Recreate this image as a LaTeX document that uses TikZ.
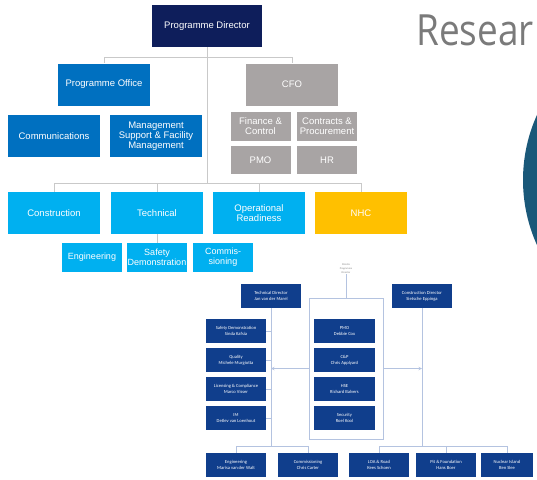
\documentclass[tikz,border=0pt]{standalone}
\usepackage{fontspec}
\setmainfont{Liberation Sans}
\newfontfamily\orgsmall{Carlito}
\newfontfamily\orgtitle{Open Sans}
\definecolor{pdnavy}{HTML}{0E1E5B}
\definecolor{midblue}{HTML}{0070C0}
\definecolor{lightblue}{HTML}{00B0F0}
\definecolor{cfogray}{HTML}{A8A4A4}
\definecolor{nhcyellow}{HTML}{FFC000}
\definecolor{lownavy}{HTML}{103E8C}
\definecolor{linegray}{HTML}{C9C9C9}
\definecolor{lineblue}{HTML}{B4C3E0}
\definecolor{titlegray}{HTML}{7A7A7A}
\definecolor{discteal}{HTML}{1A5879}
\tikzset{
  orgbox/.style={rectangle, inner sep=0pt, align=center, text=white,
    font=\fontsize{9.5}{10}\selectfont},
  bigbox/.style={orgbox, minimum width=92pt, minimum height=42pt},
  subbox/.style={orgbox, minimum width=60pt, minimum height=29pt},
  namebox/.style={rectangle, inner sep=0pt, align=center, text=white, fill=lownavy,
    minimum width=60pt, minimum height=24pt, font=\orgsmall\fontsize{4.6}{6.4}\selectfont},
  topline/.style={draw=linegray, line width=0.8pt},
  lowline/.style={draw=lineblue, line width=0.6pt},
}
\begin{document}
\begin{tikzpicture}[x=1pt, y=-1pt, >=stealth]
    \useasboundingbox (0,0) rectangle (537,479);

    % Titolo e disco
    \begin{scope}
        \clip (0,0) rectangle (537,479);
        \fill[discteal] (681,180) circle (158);
    \end{scope}
    \node[font=\orgtitle\fontsize{43}{43}\selectfont, text=titlegray, anchor=base west, inner sep=0pt] (title) at (416,45) {\scalebox{0.86}[1]{Resear}};

    % Vertice
    \node[orgbox, fill=pdnavy, minimum width=110pt, minimum height=42pt] (pd) at (207,26) {Programme Director};

    % Ufficio e CFO
    \node[bigbox, fill=midblue] (progoff) at (104,84.5) {Programme Office};
    \node[bigbox, fill=midblue] (comms) at (54,136) {Communications};
    \node[bigbox, fill=midblue] (mgmt) at (156,136) {Management\\Support \& Facility\\Management};
    \node[bigbox, fill=cfogray] (cfo) at (292,84.5) {CFO};
    \node[subbox, fill=cfogray] (fin) at (260.5,126.5) {Finance \&\\Control};
    \node[subbox, fill=cfogray] (contr) at (327,126.5) {Contracts \&\\Procurement};
    \node[subbox, fill=cfogray, minimum height=28pt] (pmo) at (260.5,160) {PMO};
    \node[subbox, fill=cfogray, minimum height=28pt] (hr) at (327,160) {HR};

    % Reparti
    \node[bigbox, fill=lightblue] (constr) at (54,213) {Construction};
    \node[bigbox, fill=lightblue] (tech) at (157,213) {Technical};
    \node[bigbox, fill=lightblue] (opsready) at (259,213) {Operational\\Readiness};
    \node[bigbox, fill=nhcyellow] (nhc) at (361,213) {NHC};
    \node[subbox, fill=lightblue, font=\fontsize{9}{10}\selectfont] (eng) at (92,257.5) {Engineering};
    \node[subbox, fill=lightblue, font=\fontsize{9}{10}\selectfont] (safety) at (157,257.5) {Safety\\Demonstration};
    \node[subbox, fill=lightblue, font=\fontsize{9}{10}\selectfont] (commis) at (223,257.5) {Commis-\\sioning};

    % Collegamenti in alto
    \coordinate (topbus) at (207,57);
    \coordinate (rowbus) at (207,183);
    \draw[topline] (pd.south) -- (rowbus);
    \draw[topline] (topbus) -| (progoff.north);
    \draw[topline] (topbus) -| (cfo.north);
    \draw[topline] (rowbus) -| (constr.north);
    \draw[topline] (rowbus) -| (tech.north);
    \draw[topline] (rowbus) -| (opsready.north);
    \draw[topline] (rowbus) -| (nhc.north);
    \draw[topline] (tech.south) -- (safety.north);

    % Organigramma in basso
    \node[text=gray, font=\orgsmall\fontsize{2.6}{4.2}\selectfont, align=center, inner sep=0.5pt] (pallas) at (346,268.5) {PALLAS\\Programme\\Director};
    \node[namebox] (techdir) at (271,296) {Technical Director\\Jan van der Marel};
    \node[namebox] (condir) at (422,296) {Construction Director\\Sietsche Eppinga};
    \node[draw=lineblue, line width=0.6pt, minimum width=74pt, minimum height=141pt, inner sep=0pt] (staff) at (346,368.5) {};

    \node[namebox, minimum width=61pt] (pmodc) at (344.5,331) {PMO\\Debbie Cox};
    \node[namebox, minimum width=61pt] (cp) at (344.5,360) {C\&P\\Chris Applyard};
    \node[namebox, minimum width=61pt] (hse) at (344.5,389) {HSE\\Richard Balvers};
    \node[namebox, minimum width=61pt] (sec) at (344.5,418) {Security\\Roel Kool};

    \node[namebox] (safedem) at (236,331) {Safety Demonstration\\Sinda Kafsia};
    \node[namebox] (quality) at (236,360) {Quality\\Michele Murgiotta};
    \node[namebox] (licens) at (236,389) {Licensing \& Compliance\\Marco Visser};
    \node[namebox] (im) at (236,418) {IM\\Detlev van Loenhout};

    \node[namebox] (engmw) at (236,465) {Engineering\\Marisa van der Walt};
    \node[namebox] (commcc) at (308,465) {Commissioning\\Chris Carter};
    \node[namebox] (loa) at (379,465) {LOA \& Road\\Kees Schoen};
    \node[namebox] (pitf) at (446,465) {Pit \& Foundation\\Hans Boer};
    \node[namebox, minimum width=52pt] (nuclear) at (507,465) {Nuclear Island\\Ben Slee};

    % Collegamenti in basso
    \coordinate (techbus) at (271,446);
    \coordinate (conbus) at (422,446);
    \draw[lowline] (pallas.south) -- (staff.north);
    \draw[lowline] (techdir.south) -- (techbus);
    \draw[lowline] (techbus) -| (engmw.north);
    \draw[lowline] (techbus) -| (commcc.north);
    \draw[lowline] (safedem.east) -- (safedem.east -| techdir.south);
    \draw[lowline] (quality.east) -- (quality.east -| techdir.south);
    \draw[lowline] (licens.east) -- (licens.east -| techdir.south);
    \draw[lowline] (im.east) -- (im.east -| techdir.south);
    \draw[lowline] (condir.south) -- (conbus);
    \draw[lowline] (conbus) -| (loa.north);
    \draw[lowline] (conbus) -| (pitf.north);
    \draw[lowline] (conbus) -| (nuclear.north);
    \draw[lowline, ->] (staff.west) -- (staff.west -| techdir.south);
    \draw[lowline, ->] (staff.east) -- (staff.east -| condir.south);
\end{tikzpicture}
\end{document}
